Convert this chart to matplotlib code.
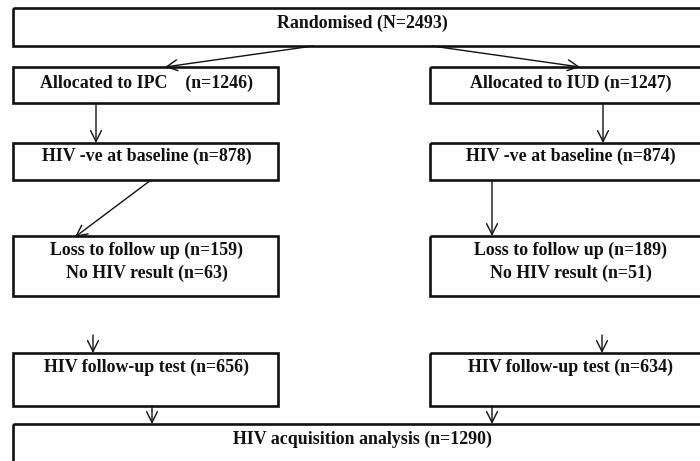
import matplotlib
matplotlib.use("Agg")
import matplotlib.pyplot as plt
from matplotlib.patches import Rectangle, FancyArrowPatch

# ---- data (texts of the flow diagram) ----
top_label = "Randomised (N=2493)"
arm_labels = ["Allocated to IPC    (n=1246)", "Allocated to IUD (n=1247)"]
baseline_labels = ["HIV -ve at baseline (n=878)", "HIV -ve at baseline (n=874)"]
loss_labels = ["Loss to follow up (n=159)\nNo HIV result (n=63)",
               "Loss to follow up (n=189)\nNo HIV result (n=51)"]
followup_labels = ["HIV follow-up test (n=656)", "HIV follow-up test (n=634)"]
final_label = "HIV acquisition analysis (n=1290)"

W, H = 700, 461
fig = plt.figure(figsize=(7, 4.61), dpi=100)
ax = fig.add_axes([0, 0, 1, 1])
ax.set_xlim(0, W)
ax.set_ylim(H, 0)
ax.axis("off")

FONT = dict(family="Liberation Serif", weight="bold", fontsize=12.9, color="#111111")
BOX_LW = 1.9


def box(x0, y0, x1, y1):
    ax.add_patch(Rectangle((x0, y0), x1 - x0, y1 - y0, fill=False,
                           edgecolor="#111111", linewidth=BOX_LW))


def arrow(x0, y0, x1, y1):
    ax.add_patch(FancyArrowPatch((x0, y0), (x1, y1), arrowstyle="->,head_length=6,head_width=3",
                                 mutation_scale=1.3, color="#111111", linewidth=1.0,
                                 shrinkA=0, shrinkB=0))


def label(x, y, s):
    ax.text(x, y, s, ha="center", va="center", linespacing=1.45, **FONT)


# columns
Lx0, Lx1, Lc = 13, 278, 147
Rx0, Rx1, Rc = 430, 712, 571

# top box
box(13, 8, 712, 46)
label(362, 23, top_label)

# allocation row
box(Lx0, 67, Lx1, 103)
box(Rx0, 67, Rx1, 103)
label(Lc, 83, arm_labels[0])
label(Rc, 83, arm_labels[1])
arrow(313, 46, 165, 67)
arrow(432, 46, 580, 67)

# baseline row
box(Lx0, 143, Lx1, 180)
box(Rx0, 143, Rx1, 180)
label(Lc, 156, baseline_labels[0])
label(Rc, 156, baseline_labels[1])
arrow(96, 103, 96, 143)
arrow(603, 103, 603, 143)

# loss row
box(Lx0, 236, Lx1, 296)
box(Rx0, 236, Rx1, 296)
label(Lc, 262, loss_labels[0])
label(Rc, 262, loss_labels[1])
arrow(151, 180, 75, 237)
arrow(492, 180, 492, 236)

# follow-up row
box(Lx0, 353, Lx1, 406)
box(Rx0, 353, Rx1, 406)
label(Lc, 367, followup_labels[0])
label(Rc, 367, followup_labels[1])
arrow(93, 335, 93, 353)
arrow(602, 335, 602, 353)

# final box
box(13, 424, 712, 475)
label(362, 439, final_label)
arrow(152, 406, 152, 424)
arrow(492, 406, 492, 424)

fig.savefig("out.png", dpi=100)
